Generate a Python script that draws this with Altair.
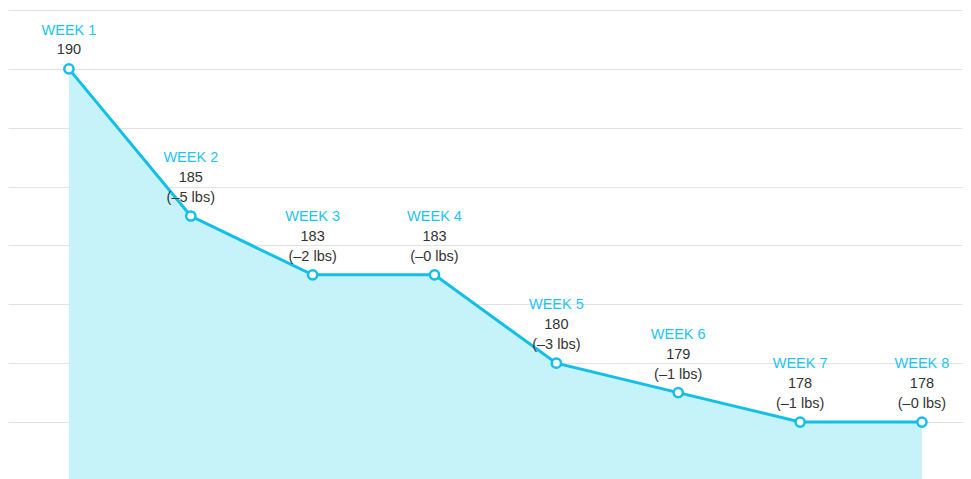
import altair as alt
import pandas as pd

weeks = [1, 2, 3, 4, 5, 6, 7, 8]
week_labels = ["WEEK 1", "WEEK 2", "WEEK 3", "WEEK 4", "WEEK 5", "WEEK 6", "WEEK 7", "WEEK 8"]
weights = [190, 185, 183, 183, 180, 179, 178, 178]
change_labels = ["", "(–5 lbs)", "(–2 lbs)", "(–0 lbs)", "(–3 lbs)", "(–1 lbs)", "(–1 lbs)", "(–0 lbs)"]
grid_values = [178, 180, 182, 184, 186, 188, 190, 192]

df = pd.DataFrame({
    "week": weeks,
    "label": week_labels,
    "weight": weights,
    "change": change_labels,
})

W = 955
H = 471
PX_PER_WEEK = 121.86
PX_PER_LB = 29.43
x_min = 0.5
x_max = x_min + W / PX_PER_WEEK
y_top = 192 + 2 / PX_PER_LB
y_bot = y_top - H / PX_PER_LB

CYAN = "#12bfe8"
AREA = "#c5f3f9"
LABEL_CYAN = "#1ec4ee"
FONT = "Liberation Sans"
FS = 14.5

x = alt.X("week:Q", scale=alt.Scale(domain=[x_min, x_max], nice=False, zero=False), axis=None)
y = alt.Y(
    "weight:Q",
    scale=alt.Scale(domain=[y_bot, y_top], nice=False, zero=False),
    axis=alt.Axis(values=grid_values, labels=False, ticks=False, domain=False, title=None,
                  grid=True, gridColor="#e2e2e2", gridWidth=1),
)

base = alt.Chart(df)

area = base.mark_area(color=AREA, opacity=1).encode(x=x, y=y, y2=alt.value(H))
line = base.mark_line(color=CYAN, strokeWidth=3).encode(x=x, y=y)
pts = base.mark_point(filled=True, fill="white", stroke=CYAN, strokeWidth=2.5, size=85, opacity=1).encode(x=x, y=y)

first = base.transform_filter("datum.week == 1")
rest = base.transform_filter("datum.week > 1")

txt = dict(font=FONT, fontSize=FS, align="center", baseline="middle")

wk1 = first.mark_text(color=LABEL_CYAN, dy=-38, **txt).encode(x=x, y=y, text="label:N")
val1 = first.mark_text(color="#333333", dy=-19, **txt).encode(x=x, y=y, text="weight:Q")
wk = rest.mark_text(color=LABEL_CYAN, dy=-58, **txt).encode(x=x, y=y, text="label:N")
val = rest.mark_text(color="#333333", dy=-38, **txt).encode(x=x, y=y, text="weight:Q")
chg = rest.mark_text(color="#333333", dy=-18, **txt).encode(x=x, y=y, text="change:N")

chart = alt.layer(area, line, pts, wk1, val1, wk, val, chg).properties(
    width=W, height=H, autosize=alt.AutoSizeParams(type="none"), padding=0
).configure_view(stroke=None)

chart.save("out.html", embed_options={"renderer": "svg", "actions": False})
